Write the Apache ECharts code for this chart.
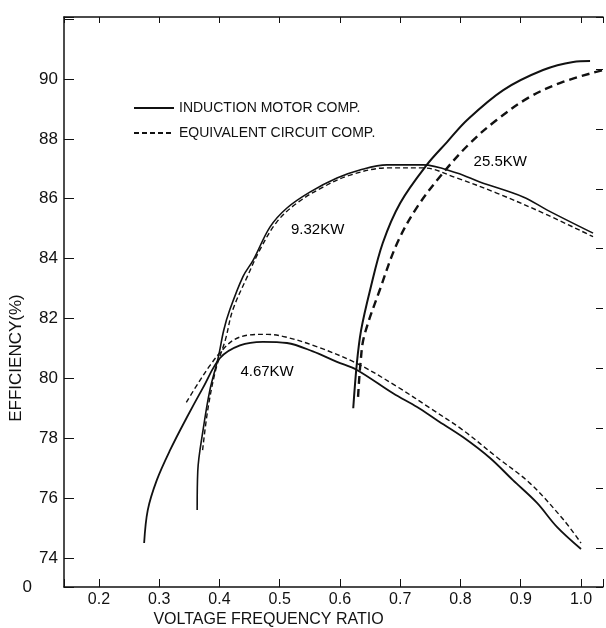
<!DOCTYPE html>
<html><head><meta charset="utf-8">
<script src="https://cdn.jsdelivr.net/npm/echarts@6/dist/echarts.min.js"></script>
<style>html,body{margin:0;padding:0;background:#fff}#c{width:606px;height:628px}</style>
</head><body><div id="c"></div>
<script>
// ---- data (voltage-frequency ratio, efficiency %) ----
const solidName = 'INDUCTION MOTOR COMP.';
const dashName = 'EQUIVALENT CIRCUIT COMP.';

const im467 = [[0.275,74.5],[0.281,75.6],[0.296,76.6],[0.318,77.6],[0.346,78.7],[0.373,79.7],[0.401,80.68],[0.434,81.1],[0.472,81.22],[0.512,81.18],[0.555,80.9],[0.595,80.55],[0.628,80.28],[0.688,79.5],[0.728,79.04],[0.761,78.6],[0.804,78.04],[0.849,77.34],[0.887,76.6],[0.927,75.84],[0.96,75.04],[1.0,74.3]];
const ec467 = [[0.345,79.2],[0.365,79.85],[0.385,80.45],[0.405,80.95],[0.425,81.3],[0.45,81.45],[0.48,81.47],[0.51,81.38],[0.56,81.07],[0.628,80.5],[0.695,79.72],[0.75,79.0],[0.804,78.27],[0.86,77.37],[0.915,76.5],[0.97,75.3],[1.0,74.5]];

const im932 = [[0.363,75.6],[0.364,76.9],[0.373,78.3],[0.384,79.6],[0.398,80.7],[0.407,81.6],[0.417,82.28],[0.439,83.4],[0.456,83.95],[0.484,85.06],[0.512,85.69],[0.55,86.22],[0.595,86.69],[0.633,86.96],[0.678,87.13],[0.738,87.13],[0.794,86.86],[0.832,86.56],[0.904,86.06],[0.944,85.62],[1.02,84.85]];
const ec932 = [[0.372,77.6],[0.381,79.0],[0.394,80.3],[0.41,81.3],[0.422,82.28],[0.446,83.39],[0.467,84.29],[0.495,85.22],[0.529,85.86],[0.572,86.39],[0.617,86.79],[0.678,87.03],[0.738,87.03],[0.794,86.69],[0.86,86.19],[0.944,85.46],[1.02,84.73]];

const im255 = [[0.622,79.0],[0.628,80.5],[0.635,81.6],[0.65,82.95],[0.671,84.52],[0.7,85.86],[0.744,87.13],[0.778,87.9],[0.811,88.63],[0.871,89.63],[0.937,90.3],[0.987,90.57],[1.015,90.6]];
const ec255 = [[0.63,79.38],[0.634,80.5],[0.64,81.4],[0.666,82.95],[0.695,84.52],[0.728,85.72],[0.771,86.86],[0.816,87.86],[0.86,88.63],[0.915,89.4],[0.97,89.9],[1.037,90.3]];

const annotations = [['9.32KW',0.563,84.95],['4.67KW',0.479,80.2],['25.5KW',0.866,87.23]];

const xTickLabels = ['0.2','0.3','0.4','0.5','0.6','0.7','0.8','0.9','1.0'];
const yTickLabels = ['74','76','78','80','82','84','86','88','90'];
const yBreakLabel = '0';

// ---- chart ----
const FONT = "'Liberation Sans',sans-serif";
const INK = '#111';
const X_MIN = 0.142, X_MAX = 1.0365, Y_MIN = 73.03, Y_MAX = 92.07;

function solid(data, w) {
  return {name: solidName, type: 'line', data, smooth: 0.35, symbol: 'none',
    itemStyle: {color: INK}, lineStyle: {color: INK, width: w, type: 'solid'}, z: 3};
}
function dashed(data, w, dash) {
  return {name: dashName, type: 'line', data, smooth: 0.35, symbol: 'none',
    itemStyle: {color: INK}, lineStyle: {color: INK, width: w, type: dash}, z: 3};
}

const chart = echarts.init(document.getElementById('c'));
chart.setOption({
  backgroundColor: '#fff',
  animation: false,
  grid: {left: 64, right: 3, top: 17, bottom: 41, containLabel: false, outerBoundsMode: 'none'},
  legend: {
    data: [solidName, dashName], orient: 'vertical', left: 128, top: 96,
    itemWidth: 40, itemHeight: 12, itemGap: 11, selectedMode: false,
    itemStyle: {opacity: 0},
    textStyle: {fontFamily: FONT, fontSize: 14, color: INK}
  },
  xAxis: [{
    type: 'value', min: X_MIN, max: X_MAX, minInterval: 0.1, maxInterval: 0.1,
    name: 'VOLTAGE FREQUENCY RATIO', nameLocation: 'middle', nameGap: 25, nameMoveOverlap: false,
    nameTextStyle: {fontFamily: FONT, fontSize: 16, color: INK, padding: [0, 130, 0, 0]},
    axisLine: {show: true, lineStyle: {color: INK, width: 1.5}},
    axisTick: {show: true, inside: true, length: 8, lineStyle: {color: INK}},
    axisLabel: {fontFamily: FONT, fontSize: 16, color: INK, margin: 5,
      formatter: v => { const s = v.toFixed(1); return (Math.abs(v - parseFloat(s)) < 1e-6 && xTickLabels.includes(s)) ? s : ''; }},
    splitLine: {show: false}
  }, {
    type: 'value', position: 'top', min: X_MIN, max: X_MAX, minInterval: 0.1, maxInterval: 0.1,
    axisLine: {show: true, lineStyle: {color: INK, width: 1.5}},
    axisTick: {show: true, inside: true, length: 6, lineStyle: {color: INK}},
    axisLabel: {show: false}, splitLine: {show: false}
  }],
  yAxis: [{
    type: 'value', min: Y_MIN, max: Y_MAX, minInterval: 2, maxInterval: 2,
    name: 'EFFICIENCY(%)', nameLocation: 'middle', nameGap: 39, nameMoveOverlap: false,
    nameTextStyle: {fontFamily: FONT, fontSize: 17, color: INK, padding: [0, 112, 0, 0]},
    axisLine: {show: true, lineStyle: {color: INK, width: 1.5}},
    axisTick: {show: true, inside: true, length: 10, lineStyle: {color: INK}},
    axisLabel: {fontFamily: FONT, fontSize: 17, color: INK, margin: 6,
      formatter: v => {
        if (Math.abs(v - Y_MIN) < 1e-6) return '{z|' + yBreakLabel + '}';
        const s = String(Math.round(v));
        return (Math.abs(v - Math.round(v)) < 1e-6 && yTickLabels.includes(s)) ? s : '';
      },
      rich: {z: {fontFamily: FONT, fontSize: 17, color: INK, padding: [0, 26, 0, 0]}}
    },
    splitLine: {show: false}
  }, {
    type: 'value', position: 'right', min: Y_MIN - 0.33, max: Y_MAX - 0.33, minInterval: 2, maxInterval: 2,
    axisLine: {show: false},
    axisTick: {show: true, inside: true, length: 7, lineStyle: {color: INK}},
    axisLabel: {show: false}, splitLine: {show: false}
  }],
  series: [
    solid(im467, 1.8), dashed(ec467, 1.4, [5, 3]),
    solid(im932, 1.6), dashed(ec932, 1.4, [5, 3]),
    solid(im255, 2.0), dashed(ec255, 2.4, [8, 5]),
    {
      name: 'labels', type: 'scatter', symbolSize: 0, silent: true,
      data: annotations.map(a => ({name: a[0], value: [a[1], a[2]]})),
      label: {show: true, position: 'inside', formatter: p => p.name,
        fontFamily: FONT, fontSize: 15, color: '#000', opacity: 1}
    }
  ]
});
</script></body></html>
